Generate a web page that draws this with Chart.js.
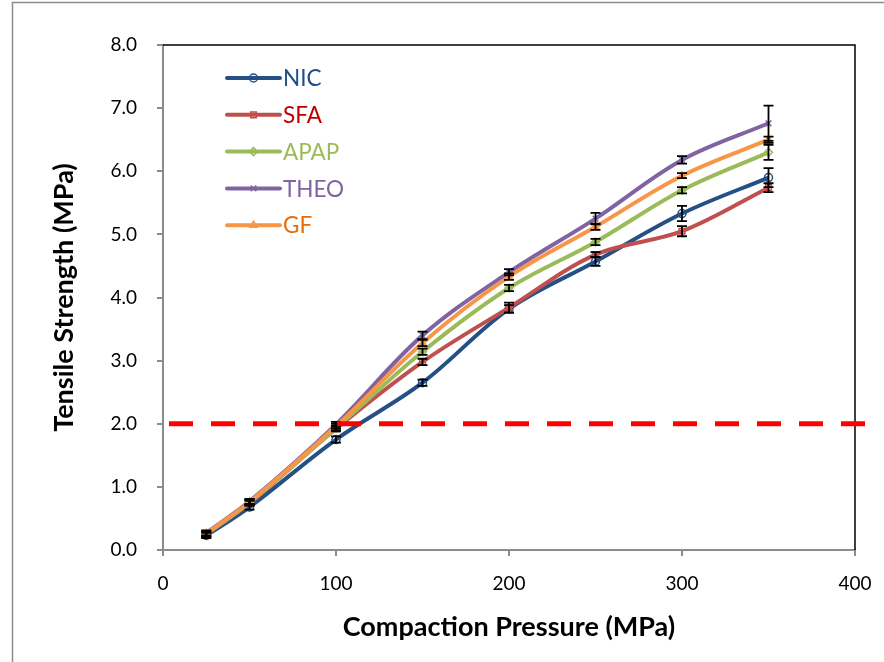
<!DOCTYPE html>
<html>
<head>
<meta charset="utf-8">
<script src="https://cdn.jsdelivr.net/npm/chart.js@4/dist/chart.umd.min.js"></script>
<style>
  html, body { margin: 0; padding: 0; background: #fff; }
  #wrap { position: relative; width: 884px; height: 662px; }
</style>
</head>
<body>
<div id="wrap"><canvas id="tsChart" width="884" height="662"></canvas></div>
<script>
// ========== Tensile strength vs compaction pressure ==========
var pressures = [25, 50, 100, 150, 200, 250, 300, 350];
var seriesNames = ['NIC', 'SFA', 'APAP', 'THEO', 'GF'];

var nicVals  = [0.23, 0.68, 1.75, 2.65, 3.82, 4.57, 5.33, 5.90];
var sfaVals  = [0.25, 0.74, 1.92, 2.98, 3.84, 4.68, 5.05, 5.74];
var apapVals = [0.25, 0.75, 1.93, 3.14, 4.15, 4.88, 5.70, 6.30];
var theoVals = [0.27, 0.77, 1.99, 3.40, 4.40, 5.25, 6.18, 6.76];
var gfVals   = [0.26, 0.76, 1.96, 3.28, 4.33, 5.12, 5.93, 6.50];

// +/- error (standard deviation)
var nicErr  = [0.04, 0.04, 0.05, 0.05, 0.06, 0.07, 0.12, 0.15];
var sfaErr  = [0.04, 0.04, 0.04, 0.05, 0.08, 0.04, 0.08, 0.07];
var apapErr = [0.04, 0.04, 0.04, 0.05, 0.05, 0.05, 0.05, 0.12];
var theoErr = [0.04, 0.04, 0.04, 0.06, 0.05, 0.09, 0.06, 0.28];
var gfErr   = [0.04, 0.04, 0.04, 0.05, 0.05, 0.05, 0.04, 0.05];

var limitValue = 2.0;
var yTicks = [0, 1, 2, 3, 4, 5, 6, 7, 8];
var xTicks = [0, 100, 200, 300, 400];

var FONT = 'Lato, "Open Sans", sans-serif';

function pts(vals) {
    return pressures.map(function(p, i) { return { x: p, y: vals[i] }; });
}

function makeSet(name, vals, errs, color, textColor, shape, order) {
    return {
        label: name,
        data: pts(vals),
        errors: errs,
        textColor: textColor,
        borderColor: color,
        backgroundColor: color,
        borderWidth: 4,
        tension: 0.35,
        pointStyle: shape,
        pointRadius: 4,
        pointBorderWidth: 1.5,
        pointBackgroundColor: 'rgba(255,255,255,0)',
        pointBorderColor: color,
        order: order
    };
}

var datasets = [
    makeSet('NIC',  nicVals,  nicErr,  '#245086', '#1F4E8C', 'circle', 5),
    makeSet('SFA',  sfaVals,  sfaErr,  '#C0504D', '#C00000', 'rect', 4),
    makeSet('APAP', apapVals, apapErr, '#9BBB59', '#9BBB59', 'rectRot', 3),
    makeSet('THEO', theoVals, theoErr, '#8064A2', '#8064A2', 'crossRot', 2),
    makeSet('GF',   gfVals,   gfErr,   '#F79646', '#E46C0A', 'triangle', 1)
];

var decorPlugin = {
    id: 'decor',
    beforeDraw: function(chart) {
        var ctx = chart.ctx;
        ctx.save();
        // outer frame (left & top edges visible)
        ctx.strokeStyle = '#8c8c8c';
        ctx.lineWidth = 1.5;
        ctx.beginPath();
        ctx.moveTo(12.5, chart.height);
        ctx.lineTo(12.5, 2.5);
        ctx.lineTo(chart.width, 2.5);
        ctx.stroke();
        ctx.restore();
    },
    afterDraw: function(chart) {
        var ctx = chart.ctx, a = chart.chartArea;
        var xs = chart.scales.x, ys = chart.scales.y;
        ctx.save();
        // plot border top/right
        ctx.strokeStyle = '#000';
        ctx.lineWidth = 1.5;
        ctx.beginPath();
        ctx.moveTo(a.left, a.top);
        ctx.lineTo(a.right, a.top);
        ctx.lineTo(a.right, a.bottom);
        ctx.stroke();

        // error bars
        ctx.strokeStyle = '#000';
        ctx.lineWidth = 1.8;
        chart.data.datasets.forEach(function(ds) {
            ds.data.forEach(function(p, i) {
                var e = ds.errors[i];
                var px = xs.getPixelForValue(p.x);
                var y1 = ys.getPixelForValue(p.y + e);
                var y2 = ys.getPixelForValue(p.y - e);
                ctx.beginPath();
                ctx.moveTo(px, y1); ctx.lineTo(px, y2);
                ctx.moveTo(px - 5, y1); ctx.lineTo(px + 5, y1);
                ctx.moveTo(px - 5, y2); ctx.lineTo(px + 5, y2);
                ctx.stroke();
            });
        });

        // 2 MPa limit line
        var ly = ys.getPixelForValue(limitValue);
        ctx.strokeStyle = '#FF0000';
        ctx.lineWidth = 5;
        ctx.setLineDash([24, 18]);
        ctx.beginPath();
        ctx.moveTo(a.left + 6, ly);
        ctx.lineTo(chart.width - 2, ly);
        ctx.stroke();
        ctx.setLineDash([]);

        // legend
        var lx0 = 227, lx1 = 280, ly0 = 78, step = 36.8;
        ctx.font = '22.5px ' + FONT;
        ctx.textBaseline = 'middle';
        chart.data.datasets.forEach(function(ds, i) {
            var yy = ly0 + i * step;
            ctx.strokeStyle = ds.borderColor;
            ctx.lineWidth = 4;
            ctx.lineCap = 'round';
            ctx.beginPath();
            ctx.moveTo(lx0, yy); ctx.lineTo(lx1, yy);
            ctx.stroke();
            ctx.lineCap = 'butt';
            ctx.lineWidth = 1.5;
            ctx.fillStyle = 'rgba(255,255,255,0)';
            ctx.strokeStyle = ds.borderColor;
            Chart.helpers.drawPoint(ctx, {
                pointStyle: ds.pointStyle, radius: 4, borderWidth: 1.5
            }, (lx0 + lx1) / 2, yy);
            ctx.fillStyle = ds.textColor;
            ctx.textAlign = 'left';
            ctx.fillText(ds.label, lx1 + 3, yy + 1);
        });
        ctx.restore();
    }
};

new Chart(document.getElementById('tsChart').getContext('2d'), {
    type: 'line',
    data: { datasets: datasets },
    options: {
        responsive: false,
        animation: false,
        layout: { padding: { left: 0, right: 29, top: 45, bottom: 0 } },
        plugins: { legend: { display: false }, tooltip: { enabled: false } },
        scales: {
            x: {
                type: 'linear',
                min: 0, max: 400,
                afterBuildTicks: function(s) { s.ticks = xTicks.map(function(v) { return { value: v }; }); },
                afterFit: function(s) { s.height = 112; s.paddingLeft = 0; s.paddingRight = 0; },
                border: { color: '#8c8c8c', width: 2 },
                grid: { drawOnChartArea: false, tickLength: 6, color: '#8c8c8c', lineWidth: 2 },
                ticks: { color: '#000', padding: 16, font: { family: FONT, size: 19 } },
                title: { display: true, text: 'Compaction Pressure (MPa)', color: '#000',
                         padding: { bottom: 19 }, font: { family: FONT, size: 27, weight: 'bold' } }
            },
            y: {
                min: 0, max: 8,
                afterBuildTicks: function(s) { s.ticks = yTicks.map(function(v) { return { value: v }; }); },
                afterFit: function(s) { s.width = 163; s.paddingTop = 0; s.paddingBottom = 0; },
                border: { color: '#8c8c8c', width: 2 },
                grid: { drawOnChartArea: false, tickLength: 6, color: '#8c8c8c', lineWidth: 2 },
                ticks: { color: '#000', padding: 20, font: { family: FONT, size: 19 },
                         callback: function(v) { return v.toFixed(1); } },
                title: { display: true, text: 'Tensile Strength (MPa)', color: '#000',
                         padding: { top: 48 }, font: { family: FONT, size: 27, weight: 'bold' } }
            }
        }
    },
    plugins: [decorPlugin]
});
</script>
</body>
</html>
